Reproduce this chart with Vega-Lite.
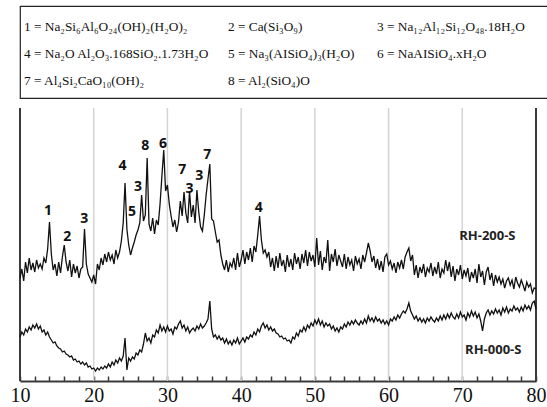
{
  "$schema": "https://vega.github.io/schema/vega-lite/v6.json",
  "padding": {"left": 5, "top": 5, "right": 2, "bottom": 0},
  "background": "white",
  "spacing": 8,
  "align": "none",
  "resolve": {"scale": {"x": "independent", "y": "independent"}},
  "config": {"font": "Liberation Serif", "axis": {"labelFont": "Liberation Serif"}},
  "vconcat": [
    {
      "width": 540,
      "height": 92,
      "view": {"stroke": "#222222", "strokeWidth": 1.2},
      "data": {"values": [
        {"col": 1, "row": 1, "k": "1 = Na₂Si₆Al₆O₂₄(OH)₂(H₂O)₂"},
        {"col": 2, "row": 1, "k": "2 = Ca(Si₃O₉)"},
        {"col": 3, "row": 1, "k": "3 = Na₁₂Al₁₂Si₁₂O₄₈.18H₂O"},
        {"col": 1, "row": 2, "k": "4 = Na₂O Al₂O₃.168SiO₂.1.73H₂O"},
        {"col": 2, "row": 2, "k": "5 = Na₃(AISiO₄)₃(H₂O)"},
        {"col": 3, "row": 2, "k": "6 = NaAISiO₄.xH₂O"},
        {"col": 1, "row": 3, "k": "7  =  Al₄Si₂CaO₁₀(OH)₂"},
        {"col": 2, "row": 3, "k": "8 = Al₂(SiO₄)O"}
      ]},
      "mark": {"type": "text", "align": "left", "baseline": "middle", "font": "Liberation Serif", "fontSize": 13.3, "color": "#111111"},
      "encoding": {
        "x": {"field": "col", "type": "quantitative", "scale": {"domain": [1, 2, 3], "range": [4, 208, 357]}, "axis": null},
        "y": {"field": "row", "type": "quantitative", "scale": {"domain": [1, 2, 3], "range": [21, 48, 75]}, "axis": null},
        "text": {"field": "k"}
      }
    },
    {
      "width": 516,
      "height": 273,
      "view": {"stroke": null},
      "encoding": {
        "x": {"field": "t", "type": "quantitative", "scale": {"domain": [10, 80], "nice": false, "zero": false},
          "axis": {"values": [10,12,14,16,18,20,22,24,26,28,30,32,34,36,38,40,42,44,46,48,50,52,54,56,58,60,62,64,66,68,70,72,74,76,78,80],
            "labelExpr": "datum.value % 10 === 0 ? datum.label : ''", "labelOverlap": false, "title": null, "grid": false,
            "domainColor": "#3a3a3a", "domainWidth": 2, "tickColor": "#3a3a3a", "tickWidth": 1.5, "tickSize": -5,
            "labelFont": "Liberation Serif", "labelFontSize": 20, "labelColor": "#111111", "labelPadding": 9, "labelFlush": false}}
      },
      "layer": [
        {
          "data": {"values": [{"t": 20}, {"t": 30}, {"t": 40}, {"t": 50}, {"t": 60}, {"t": 70}]},
          "mark": {"type": "rule", "color": "#d4d4d4", "strokeWidth": 1.5},
          "encoding": {}
        },
        {
          "data": {"values": [{"t": 10}, {"t": 80}]},
          "mark": {"type": "rule", "color": "#3a3a3a", "strokeWidth": 2},
          "encoding": {}
        },
        {
          "data": {"values": [
{"t":10.0,"u":103,"l":44},{"t":10.25,"u":112,"l":49},{"t":10.5,"u":100,"l":46},{"t":10.75,"u":119,"l":52},{"t":11.0,"u":108,"l":49},{"t":11.25,"u":123,"l":54},{"t":11.5,"u":111,"l":51},{"t":11.75,"u":118,"l":56},{"t":12.0,"u":109,"l":53},{"t":12.25,"u":121,"l":57},{"t":12.5,"u":113,"l":52},{"t":12.75,"u":117,"l":55},{"t":13.0,"u":112,"l":49},{"t":13.25,"u":123,"l":51},{"t":13.5,"u":118,"l":46},{"t":13.75,"u":132,"l":49},{"t":14.0,"u":159,"l":44},{"t":14.25,"u":127,"l":41},{"t":14.5,"u":111,"l":38},{"t":14.75,"u":117,"l":39},{"t":15.0,"u":105,"l":35},{"t":15.25,"u":119,"l":33},{"t":15.5,"u":108,"l":32},{"t":15.75,"u":124,"l":29},{"t":16.0,"u":136,"l":30},{"t":16.25,"u":119,"l":27},{"t":16.5,"u":110,"l":26},{"t":16.75,"u":121,"l":24},{"t":17.0,"u":104,"l":25},{"t":17.25,"u":117,"l":21},{"t":17.5,"u":108,"l":22},{"t":17.75,"u":115,"l":19},{"t":18.0,"u":103,"l":20},{"t":18.25,"u":112,"l":17},{"t":18.5,"u":114,"l":19},{"t":18.75,"u":152,"l":16},{"t":19.0,"u":117,"l":18},{"t":19.25,"u":107,"l":14},{"t":19.5,"u":103,"l":15},{"t":19.75,"u":99,"l":12},
{"t":20.0,"u":106,"l":13},{"t":20.25,"u":97,"l":10},{"t":20.5,"u":117,"l":13},{"t":20.75,"u":111,"l":11},{"t":21.0,"u":123,"l":14},{"t":21.25,"u":116,"l":12},{"t":21.5,"u":127,"l":15},{"t":21.75,"u":119,"l":13},{"t":22.0,"u":129,"l":17},{"t":22.25,"u":121,"l":14},{"t":22.5,"u":126,"l":19},{"t":22.75,"u":117,"l":16},{"t":23.0,"u":131,"l":21},{"t":23.25,"u":123,"l":18},{"t":23.5,"u":129,"l":23},{"t":23.75,"u":140,"l":20},{"t":24.0,"u":158,"l":25},{"t":24.25,"u":198,"l":43},{"t":24.5,"u":152,"l":11},{"t":24.75,"u":136,"l":23},{"t":25.0,"u":126,"l":20},{"t":25.25,"u":133,"l":24},{"t":25.5,"u":139,"l":22},{"t":25.75,"u":146,"l":28},{"t":26.0,"u":151,"l":26},{"t":26.25,"u":158,"l":31},{"t":26.5,"u":186,"l":29},{"t":26.75,"u":160,"l":37},{"t":27.0,"u":166,"l":48},{"t":27.25,"u":223,"l":40},{"t":27.5,"u":157,"l":43},{"t":27.75,"u":150,"l":38},{"t":28.0,"u":163,"l":46},{"t":28.25,"u":147,"l":44},{"t":28.5,"u":161,"l":51},{"t":28.75,"u":156,"l":48},{"t":29.0,"u":177,"l":56},{"t":29.25,"u":205,"l":50},{"t":29.5,"u":231,"l":54},{"t":29.75,"u":190,"l":49},
{"t":30.0,"u":196,"l":55},{"t":30.25,"u":177,"l":50},{"t":30.5,"u":165,"l":52},{"t":30.75,"u":154,"l":47},{"t":31.0,"u":161,"l":54},{"t":31.25,"u":149,"l":52},{"t":31.5,"u":159,"l":57},{"t":31.75,"u":180,"l":60},{"t":32.0,"u":165,"l":53},{"t":32.25,"u":189,"l":56},{"t":32.5,"u":168,"l":50},{"t":32.75,"u":158,"l":54},{"t":33.0,"u":190,"l":48},{"t":33.25,"u":164,"l":51},{"t":33.5,"u":176,"l":53},{"t":33.75,"u":158,"l":50},{"t":34.0,"u":191,"l":55},{"t":34.25,"u":169,"l":52},{"t":34.5,"u":154,"l":57},{"t":34.75,"u":150,"l":53},{"t":35.0,"u":166,"l":55},{"t":35.25,"u":186,"l":58},{"t":35.5,"u":202,"l":62},{"t":35.75,"u":217,"l":80},{"t":36.0,"u":162,"l":52},{"t":36.25,"u":160,"l":44},{"t":36.5,"u":149,"l":46},{"t":36.75,"u":139,"l":42},{"t":37.0,"u":141,"l":45},{"t":37.25,"u":126,"l":41},{"t":37.5,"u":117,"l":43},{"t":37.75,"u":111,"l":38},{"t":38.0,"u":121,"l":42},{"t":38.25,"u":109,"l":37},{"t":38.5,"u":118,"l":40},{"t":38.75,"u":114,"l":36},{"t":39.0,"u":123,"l":41},{"t":39.25,"u":111,"l":38},{"t":39.5,"u":128,"l":43},{"t":39.75,"u":114,"l":37},
{"t":40.0,"u":121,"l":40},{"t":40.25,"u":131,"l":43},{"t":40.5,"u":117,"l":39},{"t":40.75,"u":129,"l":44},{"t":41.0,"u":121,"l":42},{"t":41.25,"u":133,"l":46},{"t":41.5,"u":119,"l":44},{"t":41.75,"u":135,"l":49},{"t":42.0,"u":129,"l":46},{"t":42.25,"u":146,"l":52},{"t":42.5,"u":165,"l":49},{"t":42.75,"u":141,"l":55},{"t":43.0,"u":128,"l":58},{"t":43.25,"u":131,"l":53},{"t":43.5,"u":124,"l":56},{"t":43.75,"u":129,"l":51},{"t":44.0,"u":114,"l":54},{"t":44.25,"u":123,"l":50},{"t":44.5,"u":110,"l":52},{"t":44.75,"u":125,"l":48},{"t":45.0,"u":113,"l":47},{"t":45.25,"u":128,"l":44},{"t":45.5,"u":115,"l":45},{"t":45.75,"u":121,"l":42},{"t":46.0,"u":109,"l":43},{"t":46.25,"u":126,"l":40},{"t":46.5,"u":114,"l":41},{"t":46.75,"u":122,"l":38},{"t":47.0,"u":111,"l":44},{"t":47.25,"u":128,"l":42},{"t":47.5,"u":117,"l":48},{"t":47.75,"u":124,"l":45},{"t":48.0,"u":112,"l":51},{"t":48.25,"u":127,"l":49},{"t":48.5,"u":118,"l":54},{"t":48.75,"u":131,"l":50},{"t":49.0,"u":115,"l":56},{"t":49.25,"u":129,"l":53},{"t":49.5,"u":120,"l":58},{"t":49.75,"u":126,"l":55},
{"t":50.0,"u":114,"l":61},{"t":50.25,"u":143,"l":57},{"t":50.5,"u":116,"l":62},{"t":50.75,"u":130,"l":56},{"t":51.0,"u":111,"l":60},{"t":51.25,"u":124,"l":54},{"t":51.5,"u":118,"l":58},{"t":51.75,"u":141,"l":55},{"t":52.0,"u":110,"l":57},{"t":52.25,"u":127,"l":52},{"t":52.5,"u":119,"l":55},{"t":52.75,"u":132,"l":50},{"t":53.0,"u":115,"l":53},{"t":53.25,"u":126,"l":49},{"t":53.5,"u":120,"l":54},{"t":53.75,"u":114,"l":52},{"t":54.0,"u":127,"l":57},{"t":54.25,"u":112,"l":54},{"t":54.5,"u":124,"l":59},{"t":54.75,"u":116,"l":56},{"t":55.0,"u":121,"l":60},{"t":55.25,"u":110,"l":57},{"t":55.5,"u":125,"l":61},{"t":55.75,"u":117,"l":58},{"t":56.0,"u":122,"l":56},{"t":56.25,"u":112,"l":60},{"t":56.5,"u":126,"l":57},{"t":56.75,"u":119,"l":62},{"t":57.0,"u":128,"l":58},{"t":57.25,"u":138,"l":65},{"t":57.5,"u":130,"l":60},{"t":57.75,"u":119,"l":63},{"t":58.0,"u":125,"l":59},{"t":58.25,"u":113,"l":64},{"t":58.5,"u":122,"l":60},{"t":58.75,"u":111,"l":62},{"t":59.0,"u":120,"l":58},{"t":59.25,"u":109,"l":61},{"t":59.5,"u":124,"l":57},{"t":59.75,"u":127,"l":60},
{"t":60.0,"u":116,"l":56},{"t":60.25,"u":120,"l":62},{"t":60.5,"u":112,"l":60},{"t":60.75,"u":118,"l":64},{"t":61.0,"u":108,"l":61},{"t":61.25,"u":119,"l":66},{"t":61.5,"u":113,"l":63},{"t":61.75,"u":121,"l":67},{"t":62.0,"u":112,"l":70},{"t":62.25,"u":124,"l":68},{"t":62.5,"u":129,"l":72},{"t":62.75,"u":133,"l":78},{"t":63.0,"u":120,"l":70},{"t":63.25,"u":126,"l":66},{"t":63.5,"u":106,"l":62},{"t":63.75,"u":116,"l":65},{"t":64.0,"u":103,"l":60},{"t":64.25,"u":114,"l":63},{"t":64.5,"u":108,"l":59},{"t":64.75,"u":117,"l":62},{"t":65.0,"u":104,"l":58},{"t":65.25,"u":113,"l":63},{"t":65.5,"u":109,"l":60},{"t":65.75,"u":118,"l":64},{"t":66.0,"u":105,"l":61},{"t":66.25,"u":114,"l":59},{"t":66.5,"u":107,"l":63},{"t":66.75,"u":119,"l":60},{"t":67.0,"u":103,"l":65},{"t":67.25,"u":112,"l":61},{"t":67.5,"u":108,"l":66},{"t":67.75,"u":121,"l":62},{"t":68.0,"u":110,"l":67},{"t":68.25,"u":119,"l":63},{"t":68.5,"u":104,"l":68},{"t":68.75,"u":115,"l":64},{"t":69.0,"u":100,"l":62},{"t":69.25,"u":112,"l":67},{"t":69.5,"u":106,"l":63},{"t":69.75,"u":116,"l":69},
{"t":70.0,"u":102,"l":64},{"t":70.25,"u":111,"l":66},{"t":70.5,"u":105,"l":61},{"t":70.75,"u":113,"l":68},{"t":71.0,"u":99,"l":64},{"t":71.25,"u":109,"l":70},{"t":71.5,"u":103,"l":65},{"t":71.75,"u":112,"l":69},{"t":72.0,"u":98,"l":63},{"t":72.25,"u":117,"l":67},{"t":72.5,"u":104,"l":60},{"t":72.75,"u":110,"l":50},{"t":73.0,"u":96,"l":62},{"t":73.25,"u":109,"l":68},{"t":73.5,"u":114,"l":71},{"t":73.75,"u":101,"l":66},{"t":74.0,"u":108,"l":70},{"t":74.25,"u":95,"l":67},{"t":74.5,"u":106,"l":72},{"t":74.75,"u":99,"l":68},{"t":75.0,"u":104,"l":71},{"t":75.25,"u":97,"l":66},{"t":75.5,"u":102,"l":73},{"t":75.75,"u":93,"l":69},{"t":76.0,"u":100,"l":74},{"t":76.25,"u":103,"l":68},{"t":76.5,"u":96,"l":72},{"t":76.75,"u":101,"l":70},{"t":77.0,"u":92,"l":75},{"t":77.25,"u":104,"l":71},{"t":77.5,"u":98,"l":73},{"t":77.75,"u":94,"l":69},{"t":78.0,"u":101,"l":74},{"t":78.25,"u":96,"l":70},{"t":78.5,"u":90,"l":76},{"t":78.75,"u":99,"l":72},{"t":79.0,"u":94,"l":75},{"t":79.25,"u":97,"l":71},{"t":79.5,"u":88,"l":78},{"t":79.75,"u":93,"l":80},{"t":80.0,"u":92,"l":72}
          ]},
          "transform": [{"fold": ["u", "l"], "as": ["s", "v"]}],
          "mark": {"type": "line", "color": "#111111", "strokeWidth": 1.3},
          "encoding": {
            "y": {"field": "v", "type": "quantitative", "scale": {"domain": [0, 273], "nice": false, "zero": false},
              "axis": {"domain": false, "ticks": false, "labels": false, "grid": false, "title": null, "minExtent": 15, "maxExtent": 15}},
            "detail": {"field": "s"}
          }
        },
        {
          "data": {"values": [
            {"t": 13.8, "v": 170, "k": "1"}, {"t": 16.4, "v": 144, "k": "2"}, {"t": 18.7, "v": 162, "k": "3"},
            {"t": 23.9, "v": 215, "k": "4"}, {"t": 25.2, "v": 169, "k": "5"}, {"t": 26.0, "v": 194, "k": "3"},
            {"t": 27.0, "v": 235, "k": "8"}, {"t": 29.4, "v": 237, "k": "6"}, {"t": 32.0, "v": 211, "k": "7"},
            {"t": 33.0, "v": 192, "k": "3"}, {"t": 34.3, "v": 205, "k": "3"}, {"t": 35.4, "v": 226, "k": "7"},
            {"t": 42.4, "v": 173, "k": "4"}
          ]},
          "mark": {"type": "text", "font": "Open Sans", "fontWeight": "bold", "fontSize": 14, "color": "#111111", "baseline": "middle", "align": "center"},
          "encoding": {
            "y": {"field": "v", "type": "quantitative"},
            "text": {"field": "k"}
          }
        },
        {
          "data": {"values": [{"t": 73.4, "v": 145, "k": "RH-200-S"}, {"t": 74.2, "v": 31, "k": "RH-000-S"}]},
          "mark": {"type": "text", "font": "Open Sans", "fontWeight": "bold", "fontSize": 13, "color": "#222222", "baseline": "middle", "align": "center"},
          "encoding": {
            "y": {"field": "v", "type": "quantitative"},
            "text": {"field": "k"}
          }
        }
      ]
    }
  ]
}
